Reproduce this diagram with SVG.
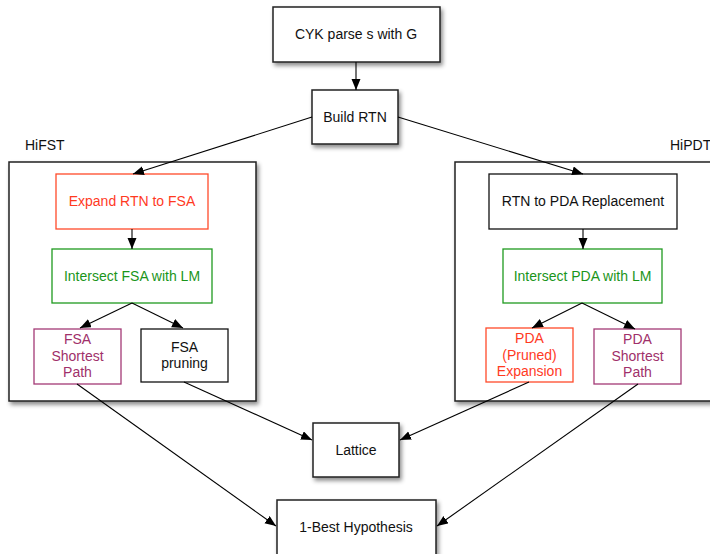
<svg xmlns="http://www.w3.org/2000/svg" width="710" height="554" viewBox="0 0 710 554">
<defs>
<filter id="sh" x="-10%" y="-10%" width="130%" height="140%">
<feDropShadow dx="2" dy="3" stdDeviation="2" flood-color="#000" flood-opacity="0.45"/>
</filter>
<marker id="ah" markerWidth="12" markerHeight="10" refX="11" refY="4.5" orient="auto" markerUnits="userSpaceOnUse">
<path d="M0,0 L11,4.5 L0,9 z" fill="#000"/>
</marker>
</defs>
<style>
text{font-family:"Liberation Sans",Arial,Helvetica,sans-serif;font-size:14px;text-anchor:middle;fill:#111}
.main{fill:#fff;stroke:#222;stroke-width:1.5;filter:url(#sh)}
.blk{fill:#fff;stroke:#111;stroke-width:1.3}
.red{fill:#fff;stroke:#ff4a2a;stroke-width:1.3}
.grn{fill:#fff;stroke:#1f9a1f;stroke-width:1.3}
.pur{fill:#fff;stroke:#a43a76;stroke-width:1.3}
text.r{fill:#ff3a1f}
text.g{fill:#1a951a}
text.p{fill:#a0306a}
text.lbl{text-anchor:start}
.edge{fill:none;stroke:#000;stroke-width:1.1;marker-end:url(#ah)}
</style>
<g id="hifst">
<text class="lbl" x="25" y="150">HiFST</text>
<rect class="main" x="9" y="162" width="247" height="239"/>
</g>
<g id="hipdt">
<text class="lbl" x="670" y="150">HiPDT</text>
<rect class="main" x="455" y="162" width="270" height="239"/>
</g>
<g id="cyk"><rect class="main" x="273" y="7" width="167" height="55"/><text x="356" y="39">CYK parse s with G</text></g>
<g id="build"><rect class="main" x="312" y="90" width="86" height="54"/><text x="355" y="122">Build RTN</text></g>
<g id="expand"><rect class="red" x="56" y="174" width="152" height="55"/><text class="r" x="132" y="206">Expand RTN to FSA</text></g>
<g id="intfsa"><rect class="grn" x="52" y="249" width="160" height="54"/><text class="g" x="132" y="281">Intersect FSA with LM</text></g>
<g id="fsasp"><rect class="pur" x="34" y="329" width="87" height="55"/><text class="p" x="77.5" y="344">FSA</text><text class="p" x="77.5" y="361">Shortest</text><text class="p" x="77.5" y="377">Path</text></g>
<g id="fsapr"><rect class="blk" x="141" y="329" width="87" height="53"/><text x="184.5" y="352">FSA</text><text x="184.5" y="368">pruning</text></g>
<g id="rtnpda"><rect class="blk" x="489" y="174" width="188" height="55"/><text x="583" y="206">RTN to PDA Replacement</text></g>
<g id="intpda"><rect class="grn" x="503" y="249" width="159" height="54"/><text class="g" x="582.5" y="281">Intersect PDA with LM</text></g>
<g id="pdaexp"><rect class="red" x="486" y="328" width="87" height="54"/><text class="r" x="529.5" y="343">PDA</text><text class="r" x="529.5" y="360">(Pruned)</text><text class="r" x="529.5" y="376">Expansion</text></g>
<g id="pdasp"><rect class="pur" x="594" y="329" width="87" height="55"/><text class="p" x="637.5" y="344">PDA</text><text class="p" x="637.5" y="361">Shortest</text><text class="p" x="637.5" y="377">Path</text></g>
<g id="lattice"><rect class="main" x="313" y="423" width="86" height="54"/><text x="356" y="455">Lattice</text></g>
<g id="best"><rect class="main" x="277" y="500" width="159" height="56"/><text x="356" y="532">1-Best Hypothesis</text></g>
<g id="connectors">
<line class="edge" x1="356" y1="62" x2="356" y2="90"/>
<line class="edge" x1="312" y1="117" x2="133" y2="174"/>
<line class="edge" x1="398" y1="117" x2="583" y2="174"/>
<line class="edge" x1="132" y1="229" x2="132" y2="249"/>
<line class="edge" x1="132" y1="303" x2="80" y2="328"/>
<line class="edge" x1="132" y1="303" x2="183" y2="328"/>
<line class="edge" x1="583" y1="229" x2="583" y2="249"/>
<line class="edge" x1="582" y1="303" x2="532" y2="328"/>
<line class="edge" x1="582" y1="303" x2="635" y2="329"/>
<line class="edge" x1="77" y1="384" x2="276" y2="526"/>
<line class="edge" x1="184" y1="382" x2="312" y2="440"/>
<line class="edge" x1="529" y1="382" x2="400" y2="440"/>
<line class="edge" x1="638" y1="384" x2="437" y2="526"/>
</g>
</svg>
